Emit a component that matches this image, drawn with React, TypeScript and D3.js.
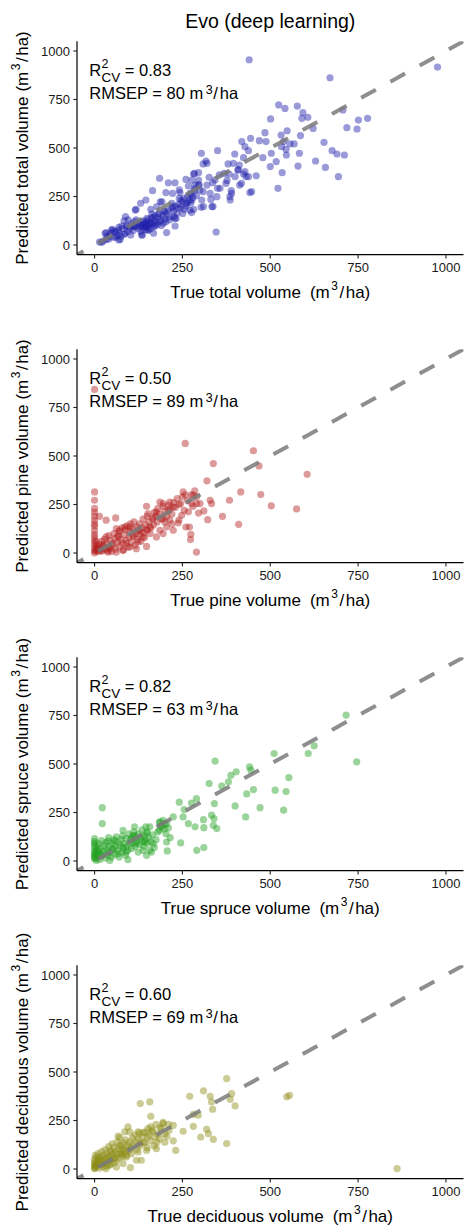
import React from 'react';
import * as d3 from 'd3';

type P = [number, number];

// [true volume, predicted volume] (m3/ha)
const totalData: P[] = [
  [440,955],[976,917],[670,862],[524,722],[542,704],[577,716],[593,682],[590,653],[607,658],[707,696],
  [501,650],[777,653],[751,644],[718,605],[747,598],[622,601],[548,589],[485,579],[586,564],[531,567],
  [444,550],[419,533],[428,507],[438,486],[469,538],[488,533],[532,507],[538,533],[556,521],[568,521],
  [545,493],[546,464],[583,473],[653,529],[676,486],[690,469],[711,464],[629,433],[503,473],[517,430],
  [479,450],[500,404],[579,407],[657,400],[694,352],[534,373],[522,292],[442,270],[408,387],[412,412],
  [399,469],[424,450],[380,418],[350,486],[304,473],[317,433],[309,418],[383,366],[424,366],[431,352],
  [460,357],[413,309],[355,361],[326,349],[336,321],[350,292],[385,249],[389,280],[377,333],[346,67],
  [303,194],[334,198],[331,235],[309,275],[284,280],[298,309],[284,369],[260,338],[277,335],[296,373],
  [271,180],[276,167],[260,215],[274,218],[229,321],[241,284],[210,321],[185,344],[187,223],[165,280],
  [146,232],[116,180],[131,215],[203,270],[222,266],[241,240],[222,198],[229,137],[203,120],[184,163],
  [160,184],[167,143],[146,103],[114,94],[88,146],[84,125],[69,91],[50,81],[30,60],[14,15],
  [43,46],[69,26],[60,69],[103,52],[136,52],[152,77],
  [20,14],[34,29],[33,64],[49,77],[54,40],[68,77],[73,29],[77,98],[87,60],[96,129],
  [92,94],[106,98],[115,120],[118,184],[130,94],[139,115],[134,52],[144,91],[149,137],[153,77],
  [158,112],[163,160],[168,60],[172,98],[177,198],[192,223],[196,112],[201,172],[205,64],[213,129],
  [220,215],[225,146],[229,98],[232,137],[239,189],[243,270],[246,232],[251,163],[255,184],[264,215],
  [267,304],[272,266],[277,232],[282,184],[282,366],[286,309],[296,335],[300,284],[305,232],[310,198],
  [320,421],[320,309],[329,266],[337,198],[343,335],[348,249],[357,292],[369,369],[374,318],[386,232],
  [390,266],[395,421],[400,352],[409,387],[418,318],[428,378],[438,352],[447,275],
  [95,70],[100,85],[105,110],[110,75],[112,95],[118,130],[120,100],[125,85],[128,110],[130,120],
  [132,70],[135,100],[138,90],[140,125],[142,105],[145,80],[148,115],[150,95],[152,130],[155,105],
  [158,120],[160,85],[162,140],[165,110],[168,95],[170,125],[172,150],[175,115],[178,105],[180,140],
  [182,160],[185,120],[188,130],[190,100],[195,150],[198,175],[200,135],[205,160],[210,180],[215,145],
  [220,190],[225,175],[230,200],[235,165],[240,210],[245,195],[250,225],[255,240],[260,200],[265,250],
  [270,230],[275,260],[280,245],[285,290],[290,255],[295,310],[60,40],[70,60],[75,45],[80,85],
  [85,55],[90,100],[40,30],[45,60],[55,70],[65,50],[25,20],[35,45]
];

const pineData: P[] = [
  [0,843],[0,315],[0,272],[0,169],[14,189],[33,169],[60,181],[258,565],[452,527],[468,449],
  [338,461],[320,372],[416,315],[473,301],[384,272],[503,243],[575,227],[605,406],[364,189],[410,148],
  [322,172],[329,272],[333,255],[311,217],[296,206],[290,5],[274,96],[273,69],[270,134],[260,134],
  [248,194],[255,220],[267,212],[276,255],[285,320],[281,298],[290,289],[290,255],[300,255],[252,315],
  [245,255],[224,237],[214,263],[195,255],[186,263],[210,220],[195,177],[214,169],[224,117],[238,155],
  [176,212],[167,182],[152,203],[148,241],[150,117],[157,134],[129,117],[138,83],[110,91],[100,134],
  [86,134],[71,117],[62,126],[90,48],[119,22],[148,34],[67,83],[52,48],[43,22],[33,83],
  [24,40],[19,14],[38,5],[62,5],[81,14],[100,31],[124,57],[176,83],[186,117],[195,100],[205,134],
  [0,0],[0,12],[0,28],[0,45],[0,62],[0,80],[0,95],[0,115],[0,138],[0,150],
  [0,190],[0,230],[0,210],[3,10],[5,25],[6,40],[4,60],[8,15],[10,30],[12,8],
  [15,45],[18,25],[20,60],[22,10],[25,35],[28,70],[30,20],[35,50],[38,12],[40,90],
  [42,30],[45,65],[48,8],[50,40],[55,100],[58,75],[60,20],[65,55],[68,90],[70,110],
  [72,35],[75,70],[78,130],[80,50],[82,15],[85,95],[88,120],[90,65],[92,140],[95,30],
  [98,80],[100,110],[102,150],[105,55],[108,125],[110,85],[112,160],[115,40],[118,100],[120,135],
  [122,70],[125,115],[128,150],[130,95],[132,60],[135,130],[138,175],[140,105],[142,80],[145,145],
  [148,120],[150,190],[155,160],[158,100],[160,130],[165,175],[168,145],[170,210],[175,190],[178,160],
  [180,230],[185,200],[190,175],[195,240],[200,215],[205,190],[210,245],[215,230],[220,200],[225,260],
  [230,235],[235,280],[240,250],[250,290],[258,300],[265,270],[275,300],[280,240],[240,170],[220,150],
  [200,160]
];

const spruceData: P[] = [
  [343,515],[511,554],[441,485],[445,468],[403,460],[388,442],[381,408],[362,386],[326,399],[553,430],
  [514,365],[545,358],[452,368],[433,346],[471,275],[400,284],[430,227],[538,262],[290,322],[276,299],
  [241,303],[255,265],[252,227],[267,193],[286,176],[310,213],[311,172],[340,219],[333,236],[338,184],
  [348,167],[341,296],[291,55],[311,69],[245,93],[224,227],[205,193],[186,201],[190,176],[203,141],
  [205,98],[207,52],[184,158],[157,176],[146,176],[150,150],[167,89],[157,55],[143,98],[133,124],
  [114,176],[114,132],[105,115],[81,158],[57,103],[38,103],[22,275],[22,193],[0,115],[0,90],
  [0,65],[0,40],[0,12],[10,55],[19,29],[38,46],[52,64],[67,38],[81,72],[90,46],
  [95,7],[119,89],[124,46],[138,55],[148,29],[162,46],[43,3],[5,3],[716,752],[746,511],
  [625,594],[608,554],
  [0,20],[0,30],[0,50],[0,80],[0,100],[3,15],[5,35],
  [6,55],[8,75],[10,25],[12,90],[14,45],[15,8],[18,65],[20,105],[22,30],[25,50],
  [28,80],[30,15],[32,95],[35,60],[38,30],[40,120],[42,75],[45,45],[48,20],[50,90],
  [52,60],[55,110],[58,35],[60,75],[62,125],[65,55],[68,95],[70,20],[72,80],[75,110],
  [78,45],[80,130],[82,65],[85,90],[88,30],[90,115],[92,75],[95,55],[98,140],[100,90],
  [102,110],[105,65],[108,130],[110,95],[112,150],[115,75],[118,120],[120,100],[125,140],[128,85],
  [130,115],[135,160],[138,100],[140,75],[142,130],[145,110],[148,145],[150,90],[155,120],[160,100],
  [165,135],[170,70],[175,110],[180,150],[185,200],[190,180],[195,210],[198,165],[200,190],[210,170],
  [215,120]
];

const deciduousData: P[] = [
  [376,466],[390,389],[310,403],[271,375],[329,375],[333,346],[386,360],[400,325],[336,308],[281,282],
  [295,277],[281,220],[319,205],[324,182],[302,165],[338,153],[376,131],[252,194],[231,96],[224,145],
  [224,225],[212,200],[206,169],[200,138],[176,105],[178,139],[171,165],[165,191],[160,217],[152,208],
  [160,272],[130,337],[157,346],[195,234],[186,213],[150,165],[138,189],[124,191],[100,191],[86,191],
  [95,217],[67,169],[143,139],[148,96],[129,131],[124,88],[119,45],[133,45],[105,79],[102,7],
  [86,96],[71,122],[76,76],[48,88],[38,62],[19,62],[10,45],[5,19],[24,28],[43,19],
  [62,10],[81,28],[57,53],[90,62],[33,2],[0,2],[547,372],[555,380],[861,2],
  [0,5],[0,15],[0,25],[0,35],[0,50],[2,70],[3,10],[5,30],[6,60],[8,20],
  [10,80],[12,40],[14,5],[15,55],[18,25],[20,90],[22,45],[24,10],[25,70],[28,35],
  [30,100],[32,55],[34,15],[35,80],[38,40],[40,115],[42,65],[44,25],[45,95],[48,50],
  [50,130],[52,75],[54,30],[55,110],[58,60],[60,90],[62,40],[64,140],[65,75],[68,105],
  [70,55],[72,160],[74,85],[75,120],[78,65],[80,100],[82,135],[85,80],[88,150],[90,110],
  [92,70],[95,125],[98,95],[100,140],[105,110],[108,160],[110,125],[115,175],[118,140],[120,100],
  [125,155],[128,185],[130,120],[135,165],[140,135],[145,190],[150,110],[155,175],[160,145],[165,200],
  [170,120],[175,230],[180,180],[185,155],[190,210],[195,240],[200,180],[210,230]
];

const speciesNames = ['total', 'pine', 'spruce', 'deciduous'];
const r2Values = ['0.83', '0.50', '0.82', '0.60'];
const rmsepValues = ['80', '89', '63', '69'];
const pointColors = ['#1e1eaa', '#b41e1e', '#1ea01e', '#8c8c14'];
const tickValues = [0, 250, 500, 750, 1000];
const chartTitle = 'Evo (deep learning)';

const W = 464;
const H = 1225;
const LEFT = 77;
const RIGHT = 463.5;
const TOP0 = 41.3;
const PANEL_H = 213.4;
const STEP = 308;
const FONT = "'Liberation Sans', Arial, Helvetica, sans-serif";

export default function App() {
  const datasets = [totalData, pineData, spruceData, deciduousData];
  const x = d3.scaleLinear().domain([-50, 1050]).range([LEFT, RIGHT]);
  return (
    <svg width={W} height={H} style={{ position: 'absolute', left: 0, top: 0, background: '#fff' }} fontFamily={FONT}>
      <rect width={W} height={H} fill="#fff" />
      <text x={(LEFT + RIGHT) / 2} y={28.3} textAnchor="middle" fontSize={19.5} fill="#000">{chartTitle}</text>
      {datasets.map((data, i) => {
        const top = TOP0 + i * STEP;
        const bottom = top + PANEL_H;
        const y = d3.scaleLinear().domain([-50, 1050]).range([bottom, top]);
        const lineGen = d3.line<number>().x((d) => x(d)).y((d) => y(d));
        const clipId = `clip-${i}`;
        const sp = speciesNames[i];
        const ax = 89.3;
        return (
          <g key={i}>
            <defs>
              <clipPath id={clipId}>
                <rect x={LEFT} y={top} width={RIGHT - LEFT} height={PANEL_H} />
              </clipPath>
            </defs>
            <g clipPath={`url(#${clipId})`}>
              {data.map((d, j) => (
                <circle key={j} cx={x(d[0])} cy={y(d[1])} r={3.6} fill={pointColors[i]} fillOpacity={0.45} />
              ))}
              <path d={lineGen([-73.3, 1100]) || ''} stroke="#7a7a7a" strokeOpacity={0.85} strokeWidth={4} strokeDasharray="16.7 16.7" fill="none" />
            </g>
            <line x1={LEFT} x2={LEFT} y1={top} y2={bottom} stroke="#000" strokeWidth={1.2} />
            <line x1={LEFT} x2={RIGHT} y1={bottom} y2={bottom} stroke="#000" strokeWidth={1.2} />
            {tickValues.map((t) => (
              <g key={`y${t}`}>
                <line x1={LEFT - 3.7} x2={LEFT} y1={y(t)} y2={y(t)} stroke="#222" strokeWidth={1.1} />
                <text x={70} y={y(t) + 4.6} textAnchor="end" fontSize={13} fill="#1a1a1a">{t}</text>
              </g>
            ))}
            {tickValues.map((t) => (
              <g key={`x${t}`}>
                <line x1={x(t)} x2={x(t)} y1={bottom} y2={bottom + 3.7} stroke="#222" strokeWidth={1.1} />
                <text x={x(t)} y={bottom + 17} textAnchor="middle" fontSize={13} fill="#1a1a1a">{t}</text>
              </g>
            ))}
            <text x={ax} y={top + 34.4} fontSize={16.5} fill="#000">
              R
              <tspan x={ax + 12.2} dy={-7.4} fontSize={12.5}>2</tspan>
              <tspan x={ax + 12.2} dy={13.4} fontSize={13.5}>CV</tspan>
              <tspan dy={-6} fontSize={16.5} dx={4.5}>{`= ${r2Values[i]}`}</tspan>
            </text>
            <text x={ax} y={top + 57.7} fontSize={16.5} fill="#000">
              {`RMSEP = ${rmsepValues[i]} m`}
              <tspan dx={2.5} dy={-5.5} fontSize={12.5}>3</tspan>
              <tspan dx={0.5} dy={5.5}>/</tspan>
              <tspan dx={2}>ha</tspan>
            </text>
            <text x={(LEFT + RIGHT) / 2} y={bottom + 43} textAnchor="middle" fontSize={17} fill="#000">
              {`True ${sp} volume`}
              <tspan dx={9}>(m</tspan>
              <tspan dx={1.5} dy={-8} fontSize={12}>3</tspan>
              <tspan dx={1.5} dy={8}>/</tspan>
              <tspan dx={1.5}>ha)</tspan>
            </text>
            <text transform={`translate(27.5, ${(top + bottom) / 2}) rotate(-90)`} textAnchor="middle" fontSize={17} fill="#000">
              {`Predicted ${sp} volume`}
              <tspan dx={5}>(m</tspan>
              <tspan dx={1.5} dy={-8} fontSize={12}>3</tspan>
              <tspan dx={1.5} dy={8}>/</tspan>
              <tspan dx={1.5}>ha)</tspan>
            </text>
          </g>
        );
      })}
    </svg>
  );
}
